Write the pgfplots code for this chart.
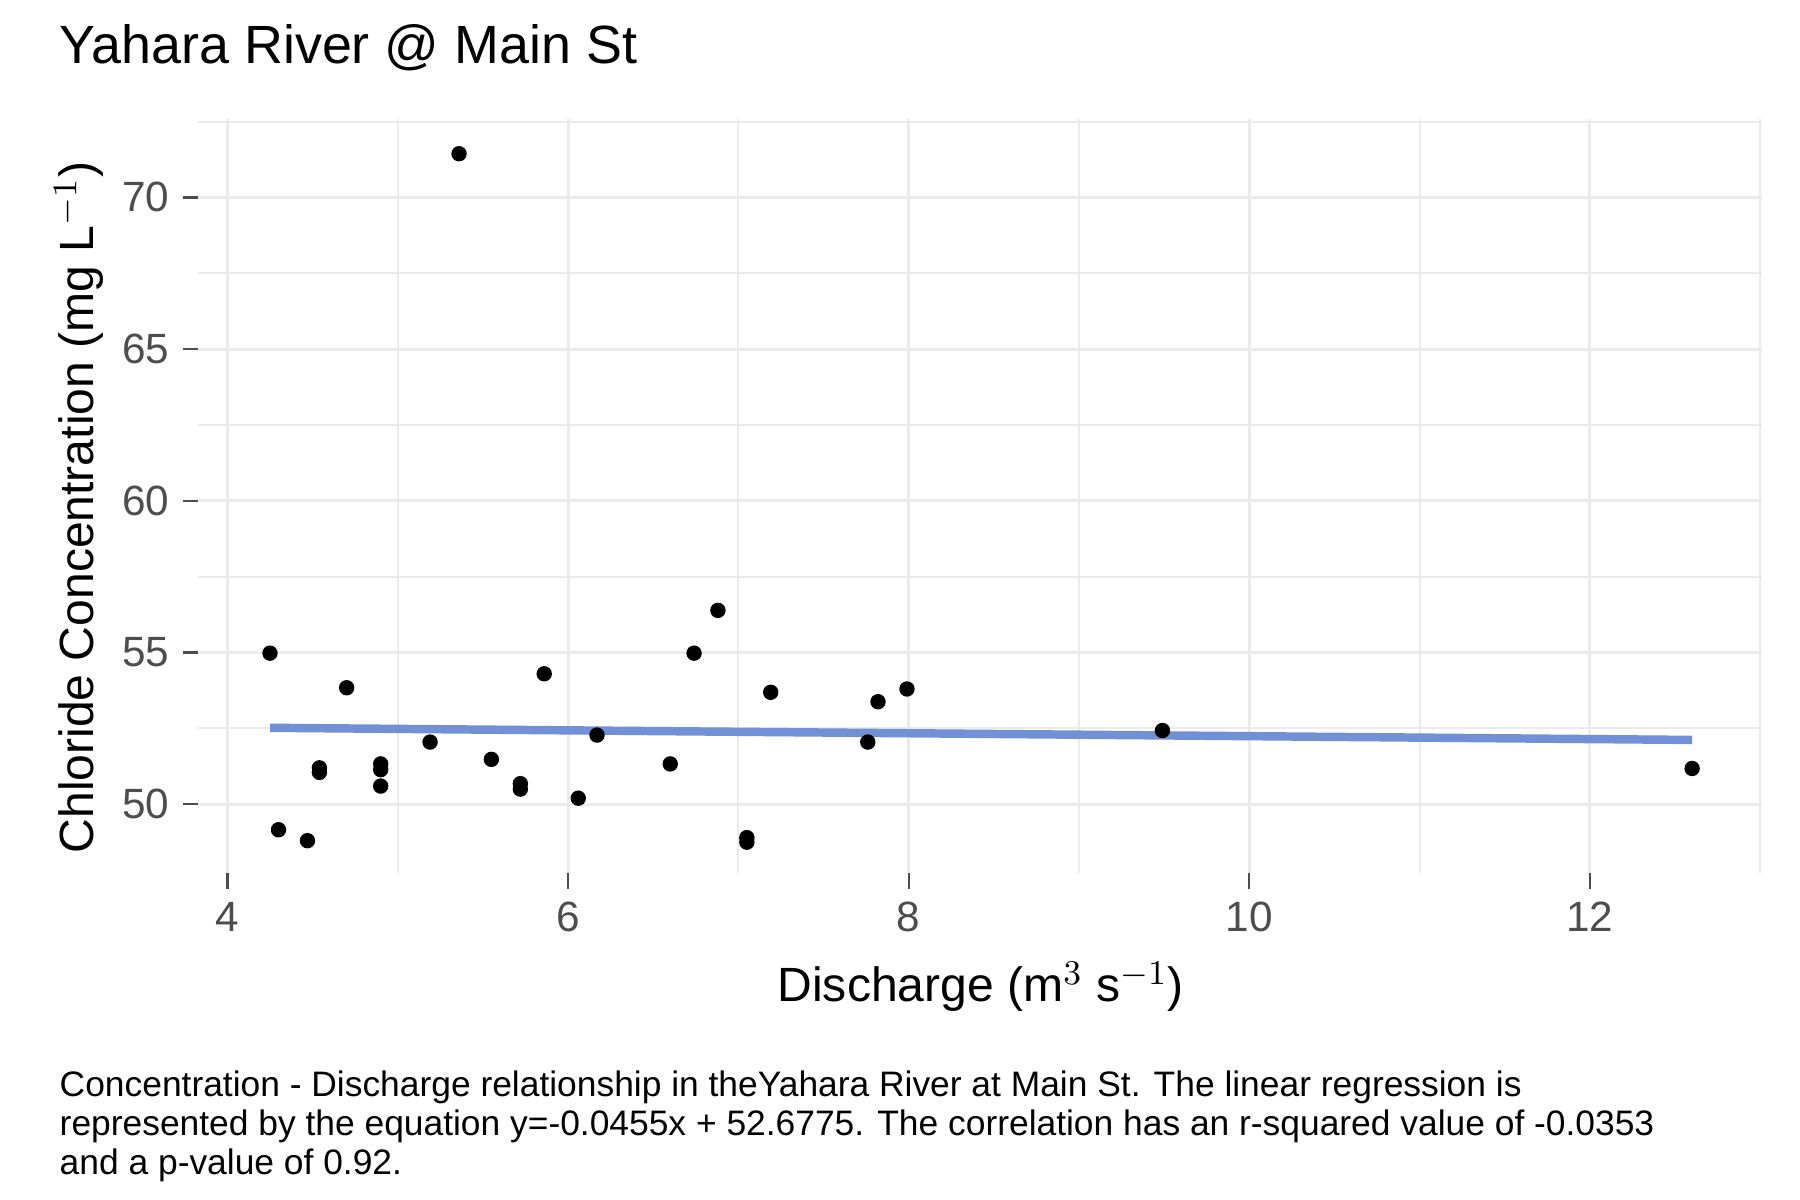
\documentclass[border=0pt]{standalone}
\usepackage{pgfplots}
\pgfplotsset{compat=1.18}
\usepackage{fontspec}
\setmainfont{Liberation Sans}
\definecolor{gridc}{HTML}{EBEBEB}
\definecolor{tickc}{HTML}{4D4D4D}
\definecolor{fitc}{HTML}{7290D6}
\begin{document}
\begin{tikzpicture}
\path (0,0) rectangle (468pt,312pt);
\begin{axis}[at={(51.6pt,84.9pt)},anchor=south west,scale only axis,
 width=406.5pt,height=196.2pt,
 xmin=3.83,xmax=13.01,ymin=47.72,ymax=72.59,
 xtick={4,6,8,10,12},ytick={50,55,60,65,70},
 minor xtick={5,7,9,11,13},minor ytick={47.5,52.5,57.5,62.5,67.5,72.5},
 grid=both,major grid style={gridc,line width=0.8pt},minor grid style={gridc,line width=0.5pt},
 axis line style={draw=none},
 tick style={tickc,line width=0.6pt},major tick length=4pt,minor tick length=0pt,
 tick align=outside,xtick pos=bottom,ytick pos=left,
 ticklabel style={font=\fontsize{11}{13}\selectfont,text=tickc},
 /pgf/number format/assume math mode=true,
 clip=false]
\addplot[fitc,line width=2.2pt] coordinates {(4.25,52.52) (12.6,52.12)};
\addplot[only marks,mark=*,mark size=1.8pt,black] coordinates {
(4.25,54.98)(4.30,49.16)(4.47,48.8)(4.54,51.2)(4.54,51.05)(4.70,53.84)
(4.90,51.33)(4.90,51.14)(4.90,50.6)(5.19,52.05)(5.36,71.44)(5.55,51.48)
(5.72,50.68)(5.72,50.5)(5.86,54.3)(6.06,50.2)(6.17,52.28)(6.60,51.33)
(6.74,54.98)(6.88,56.39)(7.05,48.9)(7.05,48.75)(7.19,53.69)(7.76,52.05)
(7.82,53.38)(7.99,53.8)(9.49,52.43)(12.6,51.18)};
\end{axis}
\node[anchor=base west,font=\fontsize{14}{16}\selectfont] at (12pt,295.5pt) {Yahara River @ Main St};
\node[anchor=base,font=\fontsize{12.5}{14}\selectfont] at (255pt,51.6pt) {Discharge (m$^{3}$ s$^{-1}$)};
\node[rotate=90,font=\fontsize{12.5}{14}\selectfont] at (20.4pt,180pt) {Chloride Concentration (mg L$^{-1}$)};
\node[anchor=base west,font=\fontsize{9.2}{10.2}\selectfont,align=left] at (12pt,27pt) {Concentration - Discharge relationship in theYahara River at Main St. The linear regression is};
\node[anchor=base west,font=\fontsize{9.2}{10.2}\selectfont] at (12pt,16.8pt) {represented by the equation y=-0.0455x + 52.6775. The correlation has an r-squared value of -0.0353};
\node[anchor=base west,font=\fontsize{9.2}{10.2}\selectfont] at (12pt,6.6pt) {and a p-value of 0.92.};
\end{tikzpicture}
\end{document}
